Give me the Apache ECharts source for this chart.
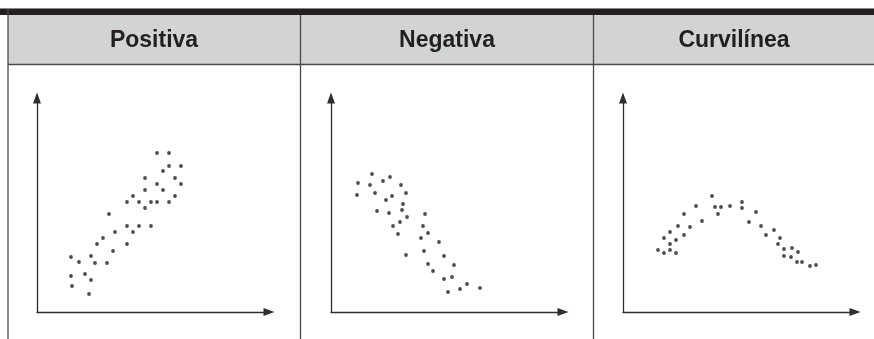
<!DOCTYPE html>
<html>
<head>
<meta charset="utf-8">
<script src="https://cdn.jsdelivr.net/npm/echarts@6/dist/echarts.min.js"></script>
<style>
html,body{margin:0;padding:0;background:#fff;}
#chart{width:874px;height:339px;}
</style>
</head>
<body>
<div id="chart"></div>
<script>
// Panel titles
const panelTitles = ['Positiva', 'Negativa', 'Curvilínea'];

// Scatter values [x, y] (units ~ pixels from the axis origin)
const positivaPoints = [
  [120,159],[132,159],[132,146],[144,146],[126,141],[108,134],[138,134],
  [120,128],[144,128],[108,122],[126,122],[96,116],[138,116],
  [90,110],[102,110],[114,110],[120,110],[132,110],[108,104],[72,98],
  [90,86],[102,86],[114,86],[78,80],[96,80],[66,74],[60,68],[90,68],
  [76,61],[34,55],[54,56],[42,50],[58,49],[70,49],[48,38],[34,36],
  [54,32],[35,26],[52,18]
];
const negativaPoints = [
  [41,138],[27,129],[52,131],[59,135],[39,127],[70,127],[26,117],[44,119],
  [61,116],[75,119],[55,112],[72,108],[46,101],[58,99],[71,102],[76,95],
  [94,98],[62,86],[69,90],[92,86],[67,78],[97,79],[90,74],[108,70],
  [75,57],[93,61],[113,56],[97,48],[123,47],[102,41],[113,33],[121,35],
  [136,28],[117,20],[129,23],[149,24]
];
const curvilineaPoints = [
  [89,116],[73,106],[92,105],[98,105],[107,106],[119,110],[119,104],[95,98],
  [61,98],[133,100],[79,91],[126,90],[55,86],[67,85],[138,86],[47,80],
  [151,82],[41,74],[61,77],[53,72],[143,77],[157,74],[47,68],[155,68],
  [35,62],[41,59],[47,62],[53,59],[161,63],[169,64],[175,60],[161,56],
  [168,55],[174,50],[179,50],[187,46],[193,47]
];

const panelData = [positivaPoints, negativaPoints, curvilineaPoints];
const gridLefts = [37, 331, 623];
const panelCenters = [154, 447, 734];

const ink = '#231f20';
const axisColor = '#2e2e2e';
const gridW = 232, gridH = 214, gridTop = 98;

const grids = [], xAxes = [], yAxes = [], series = [];
const axisLine = {
  show: true,
  onZero: false,
  symbol: ['none', 'triangle'],
  symbolSize: [8, 11],
  lineStyle: { color: axisColor, width: 1.3 }
};
for (let i = 0; i < 3; i++) {
  grids.push({ left: gridLefts[i], top: gridTop, width: gridW, height: gridH });
  xAxes.push({ gridIndex: i, type: 'value', min: 0, max: gridW, axisLine,
    axisTick: { show: false }, axisLabel: { show: false }, splitLine: { show: false } });
  yAxes.push({ gridIndex: i, type: 'value', min: 0, max: gridH, axisLine,
    axisTick: { show: false }, axisLabel: { show: false }, splitLine: { show: false } });
  series.push({ type: 'scatter', xAxisIndex: i, yAxisIndex: i, data: panelData[i],
    symbol: 'circle', symbolSize: 3.8, itemStyle: { color: ink }, silent: true });
}

const lineStyle = { stroke: '#4a4a4c', lineWidth: 1.3 };
const graphic = [
  { type: 'rect', shape: { x: 0, y: 8, width: 874, height: 1 }, style: { fill: '#8a8a8c' }, z: 0 },
  { type: 'rect', shape: { x: 0, y: 9, width: 874, height: 6 }, style: { fill: ink }, z: 0 },
  { type: 'rect', shape: { x: 8, y: 15, width: 866, height: 49 }, style: { fill: '#d1d3d4' }, z: 0 },
  { type: 'line', shape: { x1: 8, y1: 64.5, x2: 874, y2: 64.5 }, style: lineStyle, z: 1 },
  { type: 'line', shape: { x1: 8, y1: 9, x2: 8, y2: 339 }, style: lineStyle, z: 1 },
  { type: 'line', shape: { x1: 300.5, y1: 15, x2: 300.5, y2: 339 }, style: lineStyle, z: 1 },
  { type: 'line', shape: { x1: 593.5, y1: 15, x2: 593.5, y2: 339 }, style: lineStyle, z: 1 }
];
for (let i = 0; i < 3; i++) {
  graphic.push({ type: 'text', x: panelCenters[i], y: 40.5, z: 2,
    style: { text: panelTitles[i], align: 'center', verticalAlign: 'middle',
      fontFamily: 'Liberation Sans', fontWeight: 'bold', fontSize: 23, fill: ink } });
}

const chart = echarts.init(document.getElementById('chart'), null, { renderer: 'canvas' });
chart.setOption({
  animation: false,
  backgroundColor: '#ffffff',
  grid: grids,
  xAxis: xAxes,
  yAxis: yAxes,
  series,
  graphic
});
</script>
</body>
</html>
